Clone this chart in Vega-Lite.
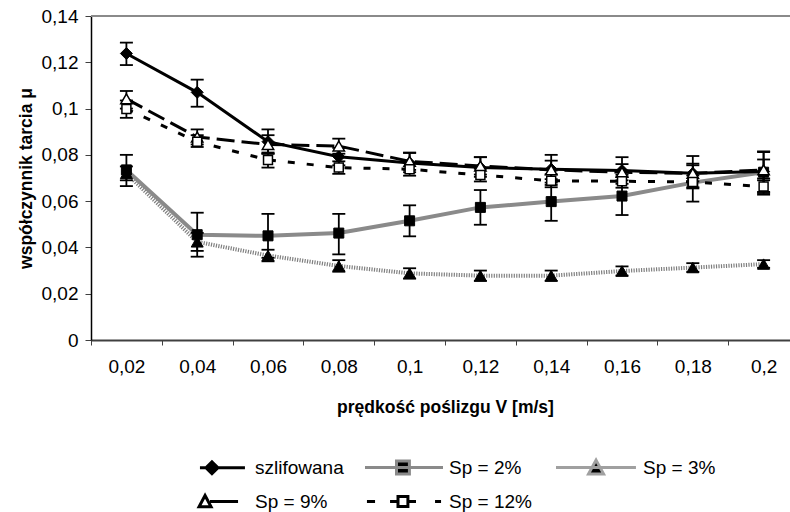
{
  "$schema": "https://vega.github.io/schema/vega-lite/v6.json",
  "autosize": {"type": "none"},
  "padding": {"left": 91, "top": 16, "right": 0, "bottom": 172},
  "width": 699,
  "height": 324,
  "config": {
    "font": "Liberation Sans",
    "view": {"stroke": null},
    "axis": {"grid": false, "labelFont": "Liberation Sans", "titleFont": "Liberation Sans", "labelColor": "black", "titleColor": "black"}
  },
  "data": {
    "values": [
      {"s": "szlifowana", "x": "0,02", "v": 0.1238, "lo": 0.1188, "hi": 0.1285},
      {"s": "szlifowana", "x": "0,04", "v": 0.107, "lo": 0.1008, "hi": 0.1125},
      {"s": "szlifowana", "x": "0,06", "v": 0.0857, "lo": 0.0805, "hi": 0.091},
      {"s": "szlifowana", "x": "0,08", "v": 0.0792, "lo": 0.0755, "hi": 0.083},
      {"s": "szlifowana", "x": "0,1", "v": 0.0765, "lo": 0.0725, "hi": 0.0808},
      {"s": "szlifowana", "x": "0,12", "v": 0.0745, "lo": 0.0705, "hi": 0.079},
      {"s": "szlifowana", "x": "0,14", "v": 0.0738, "lo": 0.067, "hi": 0.08},
      {"s": "szlifowana", "x": "0,16", "v": 0.0732, "lo": 0.0675, "hi": 0.079},
      {"s": "szlifowana", "x": "0,18", "v": 0.072, "lo": 0.066, "hi": 0.0795},
      {"s": "szlifowana", "x": "0,2", "v": 0.0728, "lo": 0.064, "hi": 0.0815},
      {"s": "Sp = 2%", "x": "0,02", "v": 0.0735, "lo": 0.0665, "hi": 0.08},
      {"s": "Sp = 2%", "x": "0,04", "v": 0.0455, "lo": 0.036, "hi": 0.055},
      {"s": "Sp = 2%", "x": "0,06", "v": 0.045, "lo": 0.0355, "hi": 0.0545},
      {"s": "Sp = 2%", "x": "0,08", "v": 0.0462, "lo": 0.037, "hi": 0.0545},
      {"s": "Sp = 2%", "x": "0,1", "v": 0.0515, "lo": 0.0448, "hi": 0.0582},
      {"s": "Sp = 2%", "x": "0,12", "v": 0.0573, "lo": 0.0498, "hi": 0.0648},
      {"s": "Sp = 2%", "x": "0,14", "v": 0.0598, "lo": 0.0515, "hi": 0.068},
      {"s": "Sp = 2%", "x": "0,16", "v": 0.0622, "lo": 0.054, "hi": 0.0705},
      {"s": "Sp = 2%", "x": "0,18", "v": 0.068, "lo": 0.0598, "hi": 0.0762},
      {"s": "Sp = 2%", "x": "0,2", "v": 0.0725, "lo": 0.0635, "hi": 0.0812},
      {"s": "Sp = 3%", "x": "0,02", "v": 0.072, "lo": 0.069, "hi": 0.075},
      {"s": "Sp = 3%", "x": "0,04", "v": 0.0424, "lo": 0.0385, "hi": 0.0463},
      {"s": "Sp = 3%", "x": "0,06", "v": 0.0365, "lo": 0.034, "hi": 0.039},
      {"s": "Sp = 3%", "x": "0,08", "v": 0.032, "lo": 0.0295, "hi": 0.0345},
      {"s": "Sp = 3%", "x": "0,1", "v": 0.0288, "lo": 0.0265, "hi": 0.031},
      {"s": "Sp = 3%", "x": "0,12", "v": 0.0278, "lo": 0.0255, "hi": 0.03},
      {"s": "Sp = 3%", "x": "0,14", "v": 0.0278, "lo": 0.0255, "hi": 0.03},
      {"s": "Sp = 3%", "x": "0,16", "v": 0.0298, "lo": 0.0278, "hi": 0.0318},
      {"s": "Sp = 3%", "x": "0,18", "v": 0.0313, "lo": 0.0295, "hi": 0.0332},
      {"s": "Sp = 3%", "x": "0,2", "v": 0.0328, "lo": 0.0312, "hi": 0.0345},
      {"s": "Sp = 9%", "x": "0,02", "v": 0.1042, "lo": 0.1, "hi": 0.1076},
      {"s": "Sp = 9%", "x": "0,04", "v": 0.0877, "lo": 0.0845, "hi": 0.091},
      {"s": "Sp = 9%", "x": "0,06", "v": 0.0845, "lo": 0.0805, "hi": 0.0885},
      {"s": "Sp = 9%", "x": "0,08", "v": 0.0838, "lo": 0.0805, "hi": 0.087},
      {"s": "Sp = 9%", "x": "0,1", "v": 0.0772, "lo": 0.0735, "hi": 0.081},
      {"s": "Sp = 9%", "x": "0,12", "v": 0.0752, "lo": 0.0715, "hi": 0.079},
      {"s": "Sp = 9%", "x": "0,14", "v": 0.0735, "lo": 0.0695, "hi": 0.0775},
      {"s": "Sp = 9%", "x": "0,16", "v": 0.0725, "lo": 0.069, "hi": 0.076},
      {"s": "Sp = 9%", "x": "0,18", "v": 0.072, "lo": 0.0685, "hi": 0.0755},
      {"s": "Sp = 9%", "x": "0,2", "v": 0.0735, "lo": 0.069, "hi": 0.078},
      {"s": "Sp = 12%", "x": "0,02", "v": 0.0998, "lo": 0.096, "hi": 0.1035},
      {"s": "Sp = 12%", "x": "0,04", "v": 0.0857, "lo": 0.0834, "hi": 0.0885},
      {"s": "Sp = 12%", "x": "0,06", "v": 0.0778, "lo": 0.0745, "hi": 0.081},
      {"s": "Sp = 12%", "x": "0,08", "v": 0.0745, "lo": 0.0718, "hi": 0.0772},
      {"s": "Sp = 12%", "x": "0,1", "v": 0.0738, "lo": 0.071, "hi": 0.0766},
      {"s": "Sp = 12%", "x": "0,12", "v": 0.0713, "lo": 0.0685, "hi": 0.074},
      {"s": "Sp = 12%", "x": "0,14", "v": 0.0688, "lo": 0.066, "hi": 0.0716},
      {"s": "Sp = 12%", "x": "0,16", "v": 0.0686, "lo": 0.0658, "hi": 0.0714},
      {"s": "Sp = 12%", "x": "0,18", "v": 0.0683, "lo": 0.0655, "hi": 0.0711},
      {"s": "Sp = 12%", "x": "0,2", "v": 0.0663, "lo": 0.0628, "hi": 0.0698}
    ]
  },
  "encoding": {
    "x": {
      "field": "x", "type": "ordinal", "sort": null,
      "scale": {"type": "band", "domain": ["0,02","0,04","0,06","0,08","0,1","0,12","0,14","0,16","0,18","0,2"], "range": [0, 708], "paddingInner": 0, "paddingOuter": 0},
      "axis": {"title": "prędkość poślizgu V [m/s]", "labelAngle": 0, "tickBand": "extent", "domainColor": "#404040", "domainWidth": 2, "tickColor": "#404040", "tickSize": 5, "tickWidth": 1, "labelFontSize": 19, "labelPadding": 12, "titleFontSize": 17.5, "titleFontWeight": "bold", "titlePadding": 22}
    }
  },
  "layer": [
    {
      "mark": {"type": "point", "opacity": 1, "size": 0, "strokeWidth": 3},
      "encoding": {
        "y": {"field": "v", "type": "quantitative", "scale": {"domain": [0, 0.14], "nice": false},
              "axis": {"title": "współczynnik tarcia μ", "values": [0, 0.02, 0.04, 0.06, 0.08, 0.1, 0.12, 0.14], "labelExpr": "replace(format(datum.value, '.2~f'), '.', ',')", "domainColor": "black", "domainWidth": 1.5, "tickColor": "#404040", "tickSize": 6, "labelFontSize": 19, "labelPadding": 7, "titleFontSize": 17.5, "titleFontWeight": "bold", "titlePadding": 6}},
        "shape": {"field": "s", "type": "nominal",
          "scale": {"domain": ["szlifowana","Sp = 2%","Sp = 3%","Sp = 9%","Sp = 12%"],
                    "range": [
                      "M-4.3,0M1.1,0M-2.17,0L0.83,0M-1.77,0L-1.37,-0.4L-0.97,0L-1.37,0.4Z",
                      "M-4.3,0M1.1,0M-4.1,0L1.1,0M-2.0,-0.43L-1.14,-0.43L-1.14,0.43L-2.0,0.43Z",
                      "M-4.3,0L1.03,0M1.1,0M-1.63,-0.5L-1.13,0.42L-2.13,0.42Z",
                      "M-4.3,0M1.1,0M-1.5,0L0.37,0M-1.83,-0.4L-1.43,0.35L-2.23,0.35Z",
                      "M-4.3,0M1.1,0M-3.97,0L-3.43,0M-2.43,0L-1.97,0M-1.15,0L-0.7,0M0.57,0L0.97,0M-1.9,-0.33L-1.24,-0.33L-1.24,0.33L-1.9,0.33Z"
                    ]},
          "legend": {"title": null, "orient": "none", "legendX": 125, "legendY": 435, "direction": "horizontal", "columns": 3, "gridAlign": "all", "columnPadding": 12, "rowPadding": 5, "symbolSize": 900, "symbolStrokeWidth": 3, "labelFontSize": 19, "labelFont": "Liberation Sans", "labelColor": "black", "labelOffset": 6, "padding": 0}},
        "fill": {"field": "s", "type": "nominal",
          "scale": {"domain": ["szlifowana","Sp = 2%","Sp = 3%","Sp = 9%","Sp = 12%"], "range": ["black", "black", "black", "white", "white"]},
          "legend": {"title": null}},
        "stroke": {"field": "s", "type": "nominal",
          "scale": {"domain": ["szlifowana","Sp = 2%","Sp = 3%","Sp = 9%","Sp = 12%"], "range": ["black", "#8a8a8a", "#a0a0a0", "black", "black"]},
          "legend": {"title": null}}
      }
    },
    {
      "mark": {"type": "rule", "color": "#8a8a8a", "strokeWidth": 2},
      "encoding": {"x": null, "y": {"datum": 0.14, "type": "quantitative"}}
    },
    {
      "transform": [{"filter": {"field": "s", "equal": "Sp = 3%"}}],
      "mark": {"type": "line", "color": "#7f7f7f", "strokeWidth": 4, "strokeDash": [1.2, 1.3], "opacity": 1},
      "encoding": {"y": {"field": "v", "type": "quantitative"}}
    },
    {
      "transform": [{"filter": {"field": "s", "equal": "Sp = 2%"}}],
      "mark": {"type": "line", "color": "#8a8a8a", "strokeWidth": 4, "opacity": 1},
      "encoding": {"y": {"field": "v", "type": "quantitative"}}
    },
    {
      "transform": [{"filter": {"field": "s", "equal": "Sp = 12%"}}],
      "mark": {"type": "line", "color": "black", "strokeWidth": 3, "strokeDash": [7, 12], "opacity": 1},
      "encoding": {"y": {"field": "v", "type": "quantitative"}}
    },
    {
      "transform": [{"filter": {"field": "s", "equal": "Sp = 9%"}}],
      "mark": {"type": "line", "color": "black", "strokeWidth": 3, "strokeDash": [18, 7], "opacity": 1},
      "encoding": {"y": {"field": "v", "type": "quantitative"}}
    },
    {
      "transform": [{"filter": {"field": "s", "equal": "szlifowana"}}],
      "mark": {"type": "line", "color": "black", "strokeWidth": 3, "opacity": 1},
      "encoding": {"y": {"field": "v", "type": "quantitative"}}
    },
    {
      "mark": {"type": "rule", "color": "black", "strokeWidth": 1.8},
      "encoding": {"y": {"field": "lo", "type": "quantitative"}, "y2": {"field": "hi"}}
    },
    {
      "mark": {"type": "tick", "color": "black", "size": 13, "thickness": 1.8, "orient": "horizontal", "opacity": 1},
      "encoding": {"y": {"field": "lo", "type": "quantitative"}}
    },
    {
      "mark": {"type": "tick", "color": "black", "size": 13, "thickness": 1.8, "orient": "horizontal", "opacity": 1},
      "encoding": {"y": {"field": "hi", "type": "quantitative"}}
    },
    {
      "transform": [{"filter": {"field": "s", "equal": "szlifowana"}}],
      "mark": {"type": "point", "shape": "diamond", "filled": true, "fill": "black", "stroke": "black", "strokeWidth": 1, "size": 144, "opacity": 1},
      "encoding": {"y": {"field": "v", "type": "quantitative"}}
    },
    {
      "transform": [{"filter": {"field": "s", "equal": "Sp = 2%"}}],
      "mark": {"type": "point", "shape": "square", "filled": true, "fill": "black", "stroke": "black", "strokeWidth": 1, "size": 100, "opacity": 1},
      "encoding": {"y": {"field": "v", "type": "quantitative"}}
    },
    {
      "transform": [{"filter": {"field": "s", "equal": "Sp = 3%"}}],
      "mark": {"type": "point", "shape": "triangle-up", "filled": true, "fill": "black", "stroke": "black", "strokeWidth": 1, "size": 144, "opacity": 1},
      "encoding": {"y": {"field": "v", "type": "quantitative"}}
    },
    {
      "transform": [{"filter": {"field": "s", "equal": "Sp = 9%"}}],
      "mark": {"type": "point", "shape": "triangle-up", "filled": false, "fill": "white", "stroke": "black", "strokeWidth": 1.5, "size": 130, "opacity": 1},
      "encoding": {"y": {"field": "v", "type": "quantitative"}}
    },
    {
      "transform": [{"filter": {"field": "s", "equal": "Sp = 12%"}}],
      "mark": {"type": "point", "shape": "square", "filled": false, "fill": "white", "stroke": "black", "strokeWidth": 1.5, "size": 80, "opacity": 1},
      "encoding": {"y": {"field": "v", "type": "quantitative"}}
    }
  ]
}
